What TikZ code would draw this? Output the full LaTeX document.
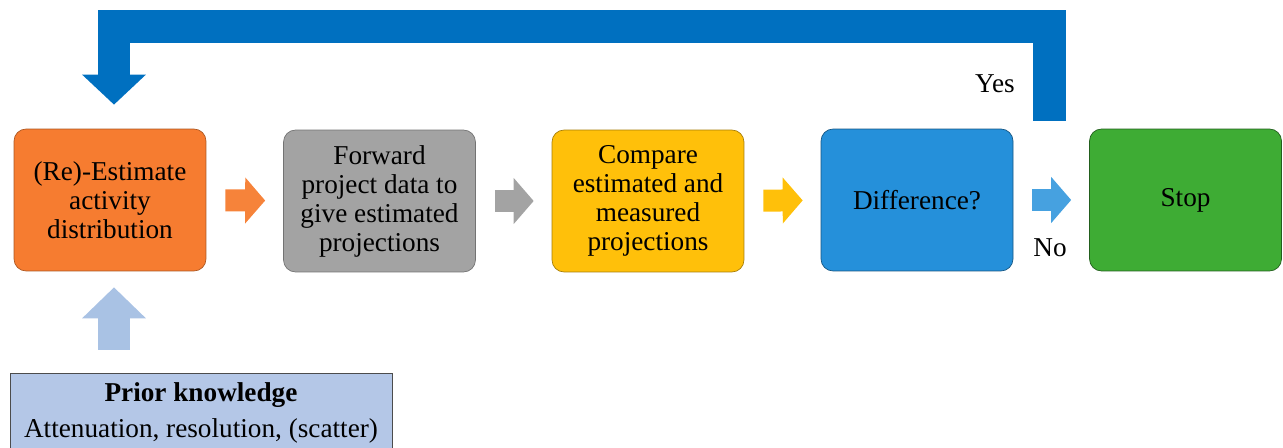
\documentclass[tikz,border=0pt]{standalone}
\usepackage{fontspec}
\setmainfont{Liberation Serif}
\usetikzlibrary{arrows.meta, calc}
\definecolor{loopblue}{RGB}{0,112,192}
\definecolor{priorfill}{RGB}{180,199,231}
\definecolor{priorarrow}{RGB}{169,194,228}
\definecolor{estorange}{RGB}{246,124,48}
\definecolor{fwdgray}{RGB}{163,163,163}
\definecolor{cmpyellow}{RGB}{255,192,10}
\definecolor{diffblue}{RGB}{37,144,218}
\definecolor{stopgreen}{RGB}{62,172,52}

\begin{document}
\begin{tikzpicture}[x=0.02cm, y=-0.02cm,
    stagebox/.style={draw, rounded corners=0.24cm, minimum width=3.84cm, minimum height=2.84cm,
      align=center, text=black},
    flowarrow/.style={line width=0.44cm, -{Triangle[length=0.4cm, width=0.9cm]},
      shorten <=0.38cm, shorten >=0.36cm},
    every node/.style={font=\fontsize{15.5}{16.5}\selectfont}]
      \useasboundingbox (0,0) rectangle (1283,448);

      % Boxes of the loop
      \node[stagebox, fill=estorange, draw=estorange!70!black] (reest) at (110,200) {(Re)-Estimate\\activity\\distribution};
      \node[stagebox, fill=fwdgray, draw=black!55] (fwd) at (379.5,201) {Forward\\project data to\\give estimated\\projections};
      \node[stagebox, fill=cmpyellow, draw=cmpyellow!65!black] (cmp) at (648,201) {Compare\\estimated and\\measured\\projections};
      \node[stagebox, fill=diffblue, draw=diffblue!60!black] (diff) at (917,200) {Difference?};
      \node[stagebox, fill=stopgreen, draw=stopgreen!55!black] (stop) at (1185.5,200) {Stop};

      % Prior knowledge
      \node[draw=black!70, fill=priorfill, minimum width=7.64cm, minimum height=1.6cm, align=center] (prior) at (201,413) {\textbf{Prior knowledge}\\[4pt]Attenuation, resolution, (scatter)};

      % Arrows between boxes
      \draw[flowarrow, estorange!95!white] (reest) -- (fwd);
      \draw[flowarrow, fwdgray] (fwd) -- (cmp);
      \draw[flowarrow, cmpyellow] (cmp) -- (diff);
      \draw[flowarrow, diffblue!85!white] (diff) -- (stop);

      % Feedback loop
      \coordinate (yes) at (1049,121);
      \coordinate (turn) at (114,27);
      \draw[loopblue, line width=0.66cm, miter limit=10, -{Triangle[length=0.6cm, width=1.24cm]}, shorten >=0.48cm]
        (yes) |- (turn) -- (turn |- reest.north);
      \draw[priorarrow, line width=0.64cm, -{Triangle[length=0.62cm, width=1.24cm]}, shorten <=0.46cm, shorten >=0.32cm]
        (prior.north -| turn) -- (reest.south -| turn);

      \node (yeslabel) at (995,84) {Yes};
      \node (nolabel) at (1050,248) {No};
    \end{tikzpicture}
\end{document}
